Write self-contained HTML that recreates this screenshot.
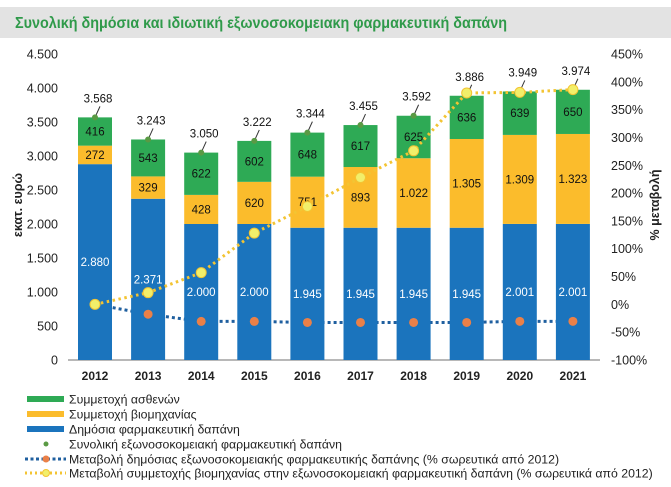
<!DOCTYPE html>
<html><head><meta charset="utf-8"><style>
body{margin:0;background:#fff;}
svg{display:block;font-family:"Liberation Sans",sans-serif;}
</style></head><body>
<svg id="chart" width="671" height="487" viewBox="0 0 671 487">
<rect x="0" y="7" width="671" height="31" fill="#e3e3e3"/>
<text x="15" y="28" font-size="16" font-weight="bold" fill="#2f9a4a" textLength="492" lengthAdjust="spacingAndGlyphs">Συνολική δημόσια και ιδιωτική εξωνοσοκομειακη φαρμακευτική δαπάνη</text>
<g id="axes"></g>
<g id="bars"></g>
<g id="lines"></g>
<g id="legend"></g>
</svg>
<script>
const years=["2012","2013","2014","2015","2016","2017","2018","2019","2020","2021"];
const publicSpend=[2880,2371,2000,2000,1945,1945,1945,1945,2001,2001];
const industrySpend=[272,329,428,620,751,893,1022,1305,1309,1323];
const patientSpend=[416,543,622,602,648,617,625,636,639,650];
const totalSpend=[3568,3243,3050,3222,3344,3455,3592,3886,3949,3974];
const publicChange=[0,-17.7,-30.6,-30.6,-32.5,-32.5,-32.5,-32.5,-30.5,-30.5];
const industryChange=[0,21,57,128,176,228,276,380,381,386];
const leftTicks=[0,500,1000,1500,2000,2500,3000,3500,4000,4500];
const rightTicks=[-100,-50,0,50,100,150,200,250,300,350,400,450];

const NS="http://www.w3.org/2000/svg";
const yL=v=>360-v*306/4500;
const yR=v=>360-(v+100)*306/550;
const xC=i=>95+i*53.1;
const fmt=v=>{const s=String(v);return s.length>3?s.slice(0,s.length-3)+"."+s.slice(-3):s;};
function mk(parent,tag,attrs,text){const e=document.createElementNS(NS,tag);for(const k in attrs)e.setAttribute(k,attrs[k]);if(text!==undefined)e.textContent=text;document.getElementById(parent).appendChild(e);return e;}

// axes
leftTicks.forEach(t=>{
 const e=mk("axes","text",{x:58,y:yL(t)+4.5,"font-size":12.5,"text-anchor":"end",fill:"#222"},fmt(t));
 
 
});
rightTicks.forEach(t=>{
 const e=mk("axes","text",{x:611,y:yR(t)+4.5,"font-size":12.5,fill:"#222"},t+"%");
 
 
});
let ax=mk("axes","line",{x1:68,x2:600,y1:360,y2:360,stroke:"#a0a0a0","stroke-width":1.5});


let lt=mk("axes","text",{x:0,y:0,"font-size":12.5,"font-weight":"bold","text-anchor":"middle",transform:"translate(22,205) rotate(-90)",fill:"#222"},"εκατ. ευρώ");


let rt=mk("axes","text",{x:0,y:0,"font-size":12.5,"font-weight":"bold","text-anchor":"middle",transform:"translate(659,205) rotate(-90)",fill:"#222"},"% μεταβολή");



// blue dotted line behind bars
let bpath=publicChange.map((v,i)=>(i?"L":"M")+xC(i)+","+yR(v)).join(" ");
let bl=mk("bars","path",{d:bpath,fill:"none",stroke:"#1f5f9f","stroke-width":3,"stroke-dasharray":"3,3"});



years.forEach((yr,i)=>{
 const x=xC(i)-17,w=34;
 const y0=360,y1=yL(publicSpend[i]),y2=yL(publicSpend[i]+industrySpend[i]),y3=yL(publicSpend[i]+industrySpend[i]+patientSpend[i]);
 let r=mk("bars","rect",{x:x,y:y1,width:w,height:y0-y1,fill:"#1b74bd"});
 
 
 r=mk("bars","rect",{x:x,y:y2,width:w,height:y1-y2,fill:"#fbbc2c"});
 
 
 r=mk("bars","rect",{x:x,y:y3,width:w,height:y2-y3,fill:"#2eaa55"});
 
 
 let t=mk("bars","text",{x:xC(i),y:(y0+y1)/2+4,"font-size":11.5,"text-anchor":"middle",fill:"#fff"},fmt(publicSpend[i]));
 
 
 t=mk("bars","text",{x:xC(i),y:(y1+y2)/2+4,"font-size":11.5,"text-anchor":"middle",fill:"#111"},fmt(industrySpend[i]));
 
 
 t=mk("bars","text",{x:xC(i),y:(y2+y3)/2+4,"font-size":11.5,"text-anchor":"middle",fill:"#111"},fmt(patientSpend[i]));
 
 
 const ty=yL(totalSpend[i]);
 let l=mk("bars","line",{x1:xC(i),y1:ty,x2:xC(i)+5,y2:ty-11,stroke:"#333","stroke-width":1});
 
 
 let d=mk("bars","circle",{cx:xC(i),cy:ty,r:3,fill:"#5a9a44"});
 
 
 t=mk("bars","text",{x:xC(i)+3,y:ty-15,"font-size":11.5,"text-anchor":"middle",fill:"#111"},fmt(totalSpend[i]));
 
 
 t=mk("bars","text",{x:xC(i),y:380,"font-size":12,"font-weight":"bold","text-anchor":"middle",fill:"#222"},yr);
 
 
});

// points & yellow line
publicChange.forEach((v,i)=>{
 if(i===0)return;
 let c=mk("lines","circle",{cx:xC(i),cy:yR(v),r:4.5,fill:"#ea8048"});
 
 
});
let ypath=industryChange.map((v,i)=>(i?"L":"M")+xC(i)+","+yR(v)).join(" ");
let yl=mk("lines","path",{d:ypath,fill:"none",stroke:"#f3c433","stroke-width":3,"stroke-dasharray":"2.5,3.5"});


industryChange.forEach((v,i)=>{
 let c=mk("lines","circle",{cx:xC(i),cy:yR(v),r:5,fill:"#f2ef6a",stroke:"#f3c433","stroke-width":1});
 
 
});

// legend
const legendLabels=["Συμμετοχή ασθενών","Συμμετοχή βιομηχανίας","Δημόσια φαρμακευτική δαπάνη","Συνολική εξωνοσοκομειακή φαρμακευτική δαπάνη","Μεταβολή δημόσιας εξωνοσοκομειακής φαρμακευτικής δαπάνης (% σωρευτικά από 2012)","Μεταβολή συμμετοχής βιομηχανίας στην εξωνοσοκομειακή φαρμακευτική δαπάνη (% σωρευτικά από 2012)"];
const rowY=[399,414,429,444,459,473];
legendLabels.forEach((lab,i)=>{
 const y=rowY[i];
 if(i<3){
  const col=["#2eaa55","#fbbc2c","#1b74bd"][i];
  let r=mk("legend","rect",{x:27,y:y-3,width:37,height:6,fill:col});
  
  
 }else if(i===3){
  let c=mk("legend","circle",{cx:46,cy:y,r:2.5,fill:"#5a9a44"});
  
  
 }else if(i===4){
  let l=mk("legend","line",{x1:25,x2:66,y1:y,y2:y,stroke:"#1f5f9f","stroke-width":3,"stroke-dasharray":"3,2.5"});
  
  
  let c=mk("legend","circle",{cx:46,cy:y,r:3.5,fill:"#ea8048"});
  
  
 }else{
  let l=mk("legend","line",{x1:25,x2:66,y1:y,y2:y,stroke:"#f3c433","stroke-width":3,"stroke-dasharray":"2,3"});
  
  
  let c=mk("legend","circle",{cx:46,cy:y,r:3.5,fill:"#f2ef6a",stroke:"#f3c433"});
  
  
 }
 let t=mk("legend","text",{x:69,y:y+4.5,"font-size":12.3,fill:"#222"},lab);
 
 
});
</script>
</body></html>
